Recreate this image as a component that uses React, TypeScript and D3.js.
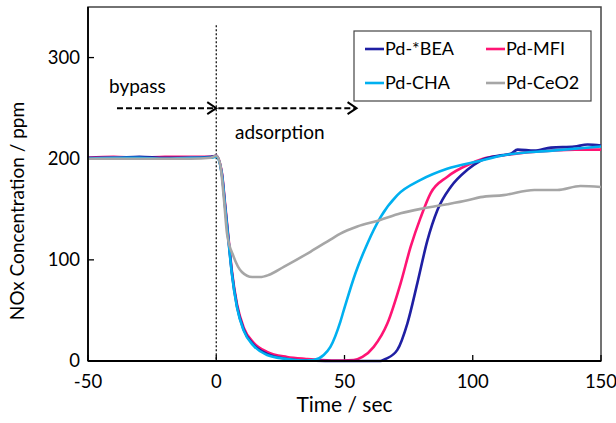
import * as d3 from "d3";
import React from "react";

// [time (s), NOx (ppm)]
const bea: [number, number][] = [
  [-50, 201], [-40, 201], [-30, 202], [-20, 201], [-10, 201], [-2, 202], [0, 203],
  [2.2, 185], [3.5, 152], [4.8, 119], [6.1, 87], [8.1, 54], [10.7, 31], [14.6, 16],
  [19.8, 7], [27.6, 2], [35, 0.5], [50, 0], [64, 0], [66, 2], [70.6, 11], [74.5, 37],
  [78.4, 77], [82.3, 119], [86.2, 149], [91.4, 172], [97.9, 189], [103, 198], [110, 203],
  [114.8, 205], [117.5, 209], [124, 208], [130.5, 211], [139.6, 212], [144.8, 214], [150, 213],
];
const mfi: [number, number][] = [
  [-50, 201], [-40, 202], [-30, 201], [-20, 202], [-10, 202], [-2, 202], [0, 203],
  [2.2, 186], [3.5, 154], [4.8, 121], [6.1, 89], [8.1, 56], [10.7, 33], [14.6, 18],
  [19.8, 9], [27.6, 4], [35, 2], [45, 0.5], [53.6, 1], [57, 4], [61.4, 14], [66.7, 37],
  [71.9, 77], [75.8, 113], [79.7, 142], [83.6, 166], [90, 182], [99, 195], [104, 200],
  [111, 203], [120, 206], [130.5, 208], [140, 209], [150, 209],
];
const cha: [number, number][] = [
  [-50, 200], [-40, 201], [-30, 201], [-20, 200], [-10, 201], [-2, 201], [0, 202],
  [2.2, 184], [3.5, 151], [4.8, 118], [6.1, 86], [8.1, 53], [10.7, 30], [14.6, 15],
  [19.8, 6], [27.6, 2], [35, 0.5], [38, 1], [41.9, 6], [44.5, 14], [48.4, 39], [49.7, 50],
  [54.3, 87], [58.9, 116], [64, 142], [70.6, 164], [79.7, 179], [90, 190], [103, 198],
  [111, 203], [131, 208], [150, 212],
];
const ceo2: [number, number][] = [
  [-50, 200], [-40, 200], [-30, 200], [-20, 200], [-10, 200], [-2, 201], [0, 203],
  [1.5, 195], [3, 160], [4.2, 126], [6.8, 103], [10, 88], [14, 83], [17, 83], [20.4, 85],
  [26.3, 93], [36.7, 108], [44.5, 120], [48.4, 126], [55, 133], [63.4, 139], [71.9, 146],
  [81, 151], [90, 155], [98, 159], [103, 162], [112, 164], [124, 169], [133, 169],
  [142, 173], [150, 172],
];

const seriesNames = ["Pd-*BEA", "Pd-MFI", "Pd-CHA", "Pd-CeO2"];
const seriesColors = ["#1f1fa3", "#ff1474", "#00b0f0", "#a6a6a6"];
const seriesData = [bea, mfi, cha, ceo2];
const drawOrder = [1, 0, 2, 3];

const xTicks = [-50, 0, 50, 100, 150];
const yTicks = [0, 100, 200, 300];

// annotations in data units
const bypassArrow = [-38.7, 0, 250];
const adsorptionArrow = [0.8, 54.7, 250];
const switchLine = [0, 332];

const W = 616;
const H = 423;
const margin = { top: 7, right: 15, bottom: 62, left: 88 };
const font = "Lato, 'Open Sans', sans-serif";

export default function App() {
  const x = d3.scaleLinear().domain([-50, 150]).range([margin.left, W - margin.right]);
  const y = d3.scaleLinear().domain([0, 350]).range([H - margin.bottom, margin.top]);
  const line = d3
    .line<[number, number]>()
    .x((d) => x(d[0]))
    .y((d) => y(d[1]))
    .curve(d3.curveMonotoneX);

  const x0 = x(-50), x1 = x(150), yb = y(0), yt = y(350);

  const arrow = (a: number[], key: string) => {
    const xa = x(a[0]), xb = x(a[1]), ya = y(a[2]);
    return (
      <g key={key}>
        <line x1={xa} x2={xb - 1} y1={ya} y2={ya} stroke="#000" strokeWidth={2} strokeDasharray="6,3" />
        <path d={`M${xb - 9},${ya - 6} L${xb},${ya} L${xb - 9},${ya + 6}`} fill="none" stroke="#000" strokeWidth={2} />
      </g>
    );
  };

  const legX = 354, legY = 31, legW = 237, legH = 70;

  return (
    <svg width={W} height={H} style={{ position: "absolute", left: 0, top: 0, background: "#fff" }} fontFamily={font}>
      <rect x={x0} y={yt} width={x1 - x0} height={yb - yt} fill="#fff" stroke="#444" strokeWidth={1.5} />

      {/* ticks inside the frame */}
      {yTicks.map((t) => (
        <g key={"y" + t}>
          <line x1={x0} x2={x0 + 6} y1={y(t)} y2={y(t)} stroke="#000" strokeWidth={1.3} />
          <text x={x0 - 8} y={y(t)} dy="0.35em" textAnchor="end" fontSize={18.5} fill="#000">{t}</text>
        </g>
      ))}
      {xTicks.map((t) => (
        <g key={"x" + t}>
          <line x1={x(t)} x2={x(t)} y1={yb} y2={yb - 6} stroke="#000" strokeWidth={1.3} />
          <text x={x(t)} y={yb + 27} textAnchor="middle" fontSize={18.5} fill="#000">{t}</text>
        </g>
      ))}

      <line x1={x(switchLine[0])} x2={x(switchLine[0])} y1={y(switchLine[1])} y2={yb} stroke="#000" strokeWidth={1.2} strokeDasharray="2,2" />

      {drawOrder.map((i) => (
        <path key={seriesNames[i]} d={line(seriesData[i]) || ""} fill="none" stroke={seriesColors[i]} strokeWidth={2.6} strokeLinejoin="round" />
      ))}

      <line x1={x0} x2={x1} y1={yb} y2={yb} stroke="#000" strokeWidth={1.8} />
      <line x1={x0} x2={x0} y1={yt} y2={yb} stroke="#000" strokeWidth={1.8} />

      {arrow(bypassArrow, "a1")}
      {arrow(adsorptionArrow, "a2")}
      <text x={109} y={93} fontSize={19} fill="#000">bypass</text>
      <text x={235} y={139} fontSize={19} fill="#000">adsorption</text>

      <g>
        <rect x={legX} y={legY} width={legW} height={legH} fill="#fff" stroke="#444" strokeWidth={1.2} />
        {seriesNames.map((n, i) => {
          const cx = legX + 11 + (i % 2) * 121;
          const cy = legY + 18 + Math.floor(i / 2) * 34;
          return (
            <g key={n}>
              <line x1={cx} x2={cx + 19} y1={cy} y2={cy} stroke={seriesColors[i]} strokeWidth={2.6} />
              <text x={cx + 20} y={cy} dy="0.35em" fontSize={18} fill="#000">{n}</text>
            </g>
          );
        })}
      </g>

      <text x={(x0 + x1) / 2} y={412} textAnchor="middle" fontSize={21} fill="#000">Time / sec</text>
      <text transform={`translate(24,${(yb + yt) / 2 + 27}) rotate(-90)`} textAnchor="middle" fontSize={19} fill="#000">
        NOx Concentration / ppm
      </text>
    </svg>
  );
}
